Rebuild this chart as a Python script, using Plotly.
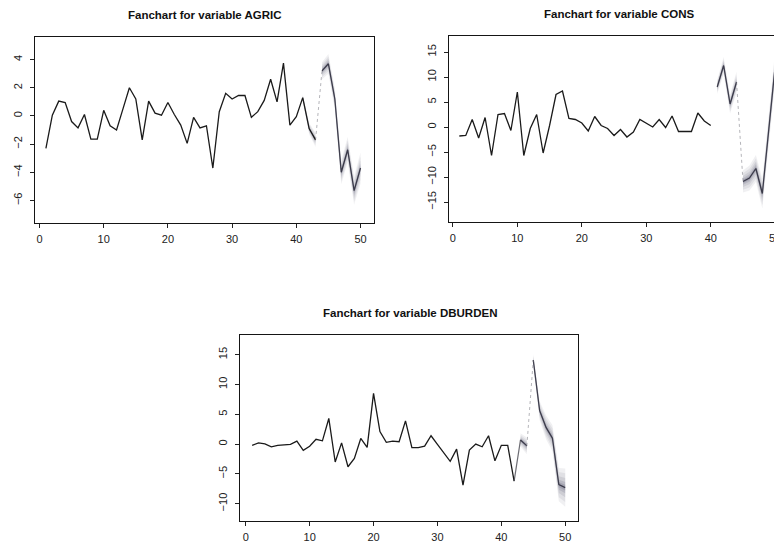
import plotly.graph_objects as go

# ---------------- data ----------------
T = list(range(1, 51))

AGRIC = [-2.3, 0.05, 1.05, 0.95, -0.4, -0.85, 0.1, -1.65, -1.65, 0.4,
         -0.7, -1.0, 0.5, 2.0, 1.2, -1.7, 1.05, 0.2, 0.05, 0.95,
         0.1, -0.65, -1.95, -0.1, -0.85, -0.7, -3.7, 0.3, 1.6, 1.2,
         1.45, 1.45, -0.1, 0.3, 1.1, 2.6, 1.0, 3.75, -0.65, -0.05,
         1.3, -0.9, -1.7, 3.2, 3.7, 1.2, -4.0, -2.4, -5.3, -3.7]
AGRIC_SPREAD = [0] * 40 + [0.25, 0.4, 0.5, 0.6, 0.7, 0.75, 0.85, 0.9, 1.0, 1.1]

CONS = [-1.8, -1.7, 1.5, -2.2, 1.9, -5.7, 2.5, 2.7, -0.7, 7.0,
        -5.7, -0.3, 2.5, -5.2, 0.3, 6.5, 7.2, 1.7, 1.5, 0.8,
        -0.8, 2.1, 0.3, -0.3, -1.7, -0.5, -2.0, -1.0, 1.5, 0.8,
        0.0, 1.5, -0.1, 2.2, -0.9, -0.9, -0.9, 2.8, 1.2, 0.3,
        8.0, 12.3, 4.6, 9.0, -10.9, -10.2, -8.3, -13.3, -0.5, 12.3]
CONS_SPREAD = [0] * 40 + [1.4, 1.7, 1.9, 2.1, 2.2, 2.5, 2.7, 3.0, 3.0, 3.2]

DBURDEN = [-0.2, 0.2, 0.05, -0.45, -0.2, -0.1, -0.05, 0.5, -1.05, -0.35,
           0.8, 0.55, 4.3, -3.0, 0.2, -3.8, -2.4, 0.95, -0.55, 8.5,
           2.1, 0.3, 0.5, 0.4, 3.9, -0.6, -0.6, -0.35, 1.4, -0.05,
           -1.55, -2.9, -0.85, -6.9, -1.0, 0.0, -0.45, 1.4, -2.8, -0.2,
           -0.2, -6.2, 0.7, -0.3, 14.1, 5.6, 2.8, 1.0, -6.8, -7.3]
DBURDEN_SPREAD = [0] * 42 + [1.1, 1.4, 1.0, 1.6, 2.0, 2.2, 2.8, 3.2]

X_TICKS = [0, 10, 20, 30, 40, 50]
AGRIC_YTICKS = [-6, -4, -2, 0, 2, 4]
CONS_YTICKS = [-15, -10, -5, 0, 5, 10, 15]
DBURDEN_YTICKS = [-10, -5, 0, 5, 10, 15]

TITLES = ["Fanchart for variable AGRIC", "Fanchart for variable CONS",
          "Fanchart for variable DBURDEN"]

# ---------------- figure ----------------
# page body has an 8px margin, so the figure is placed 8px in from the top-left
OFF = 8
W, H = 782 - OFF, 549 - OFF
fig = go.Figure()

panels = [
    dict(vals=AGRIC, spread=AGRIC_SPREAD, yticks=AGRIC_YTICKS, title=TITLES[0],
         hist=(1, 43), segs=[(44, 50)], links=[(43, 44)], solid_links=[],
         box=(35, 374, 37, 223), xr=[-0.7, 52.1], yr=[-7.6, 5.6], mirror_y=True,
         tcx=205),
    dict(vals=CONS, spread=CONS_SPREAD, yticks=CONS_YTICKS, title=TITLES[1],
         hist=(1, 40), segs=[(41, 44), (45, 50)], links=[(44, 45)], solid_links=[],
         box=(449, 782, 36, 222), xr=[-0.6, 51.05], yr=[-19.0, 18.2], mirror_y=False,
         tcx=619),
    dict(vals=DBURDEN, spread=DBURDEN_SPREAD, yticks=DBURDEN_YTICKS, title=TITLES[2],
         hist=(1, 42), segs=[(43, 44), (45, 50)], links=[(44, 45)], solid_links=[(42, 43)],
         box=(240, 578, 335, 521), xr=[-0.9, 52.0], yr=[-12.9, 18.3], mirror_y=True,
         tcx=410),
]

LINE = "#1a1a1a"
FAN_LEVELS = [(1.0, 0.09), (0.75, 0.10), (0.5, 0.13), (0.3, 0.17), (0.15, 0.22)]

for i, p in enumerate(panels, start=1):
    xa = "x" if i == 1 else f"x{i}"
    ya = "y" if i == 1 else f"y{i}"
    vals, spread = p["vals"], p["spread"]

    bounds = [p["hist"]] + p["segs"]
    for (a, b) in bounds:
        idx = [k for k in range(a - 1, b) if spread[k] > 0]
        if not idx:
            continue
        xs = [T[k] for k in idx]
        for mult, op in FAN_LEVELS:
            up = [vals[k] + mult * spread[k] for k in idx]
            lo = [vals[k] - mult * spread[k] for k in idx]
            fig.add_trace(go.Scatter(
                x=xs + xs[::-1], y=up + lo[::-1], fill="toself",
                fillcolor=f"rgba(85,85,110,{op})", line=dict(width=0),
                mode="lines", hoverinfo="skip", showlegend=False,
                xaxis=xa, yaxis=ya))

    a, b = p["hist"]
    fig.add_trace(go.Scatter(x=T[a - 1:b], y=vals[a - 1:b], mode="lines",
                             line=dict(color=LINE, width=1.3),
                             showlegend=False, xaxis=xa, yaxis=ya))
    for (a, b) in p["segs"]:
        fig.add_trace(go.Scatter(x=T[a - 1:b], y=vals[a - 1:b], mode="lines",
                                 line=dict(color="rgba(40,40,55,0.85)", width=1.3),
                                 showlegend=False, xaxis=xa, yaxis=ya))
    for (a, b) in p["solid_links"]:
        fig.add_trace(go.Scatter(x=T[a - 1:b], y=vals[a - 1:b], mode="lines",
                                 line=dict(color="rgba(60,60,70,0.75)", width=1.2),
                                 showlegend=False, xaxis=xa, yaxis=ya))
    for (a, b) in p["links"]:
        fig.add_trace(go.Scatter(x=T[a - 1:b], y=vals[a - 1:b], mode="lines",
                                 line=dict(color="rgba(120,120,130,0.55)", width=1.0, dash="dot"),
                                 showlegend=False, xaxis=xa, yaxis=ya))

    x0, x1, y0, y1 = p["box"]
    xdom = [(x0 - OFF) / W, min((x1 - OFF) / W, 1.0)]
    ydom = [1 - (y1 - OFF) / H, 1 - (y0 - OFF) / H]
    axis_common = dict(showgrid=False, zeroline=False, showline=True,
                       linecolor="#151515", linewidth=1.2, ticks="outside",
                       ticklen=4, tickwidth=1, tickcolor="#222",
                       tickfont=dict(family="Liberation Sans, Arial", size=11, color="#222"))
    fig.layout[f"xaxis{'' if i == 1 else i}"] = dict(
        domain=xdom, range=p["xr"], anchor=ya, tickvals=X_TICKS,
        mirror=True, ticklabelstandoff=2, **axis_common)
    fig.layout[f"yaxis{'' if i == 1 else i}"] = dict(
        domain=ydom, range=p["yr"], anchor=xa, tickvals=p["yticks"],
        mirror=p["mirror_y"], tickangle=-90, ticklabelstandoff=4, **axis_common)

    fig.add_annotation(text=f"<b>{p['title']}</b>", xref="paper", yref="paper",
                       x=(p["tcx"] - OFF) / W,
                       y=1 - (y0 - 22 - OFF) / H, xanchor="center", yanchor="middle",
                       showarrow=False, borderpad=0,
                       font=dict(family="Liberation Sans, Arial", size=11.5, color="#111"))

fig.update_layout(width=W, height=H, margin=dict(l=0, r=0, t=0, b=0),
                  paper_bgcolor="white", plot_bgcolor="white", showlegend=False)

fig.write_html("out.html")
